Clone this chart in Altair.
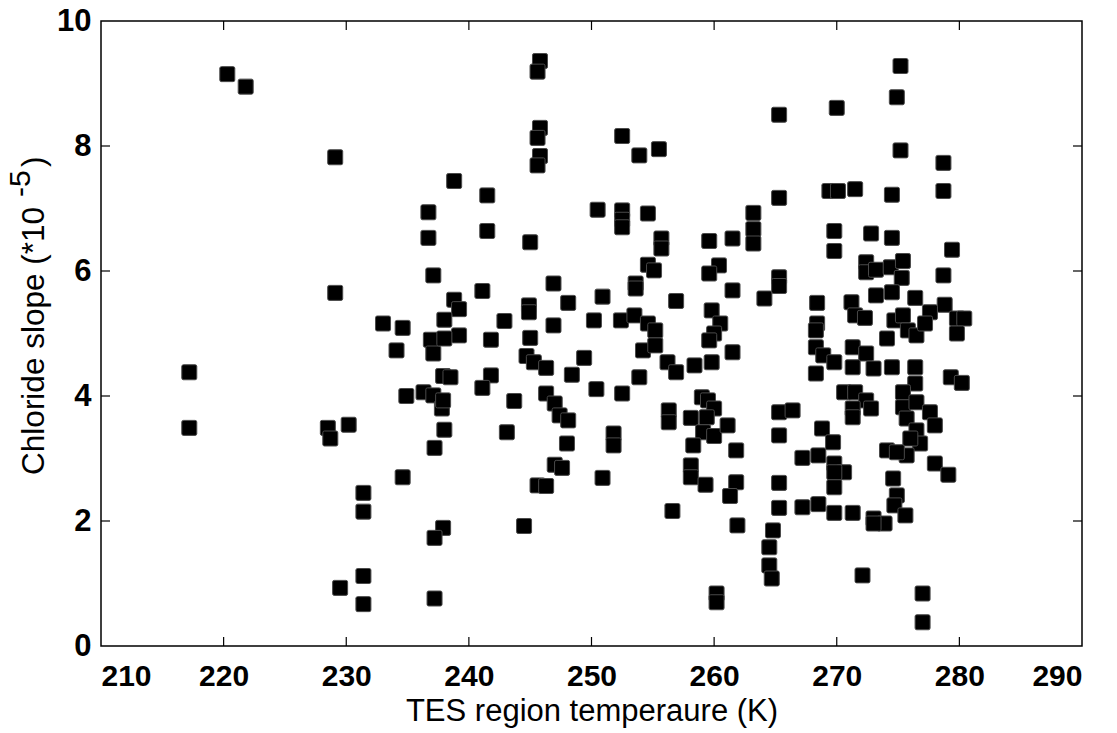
import altair as alt
import pandas as pd

# TES region temperature (K)
temps = [
    220.3, 221.8, 229.1, 236.7, 236.7, 237.1, 229.1, 233.0, 234.6,
    245.8, 245.6, 245.8, 245.6, 245.8, 245.6, 252.5, 253.9, 255.5,
    238.8, 241.5, 241.5, 245.0, 250.5, 252.5, 252.5, 252.5, 254.6,
    255.7, 255.7, 254.6, 255.1, 246.9, 241.1, 253.6, 253.6, 256.9,
    259.6, 261.5, 263.2, 263.2, 263.2, 260.4, 259.6, 261.5, 264.1,
    238.8, 239.2, 238.0, 244.9, 244.9, 248.1, 250.9, 242.9, 246.9,
    250.2, 252.4, 253.5, 254.6, 255.2, 259.8, 260.5, 260.0, 259.6,
    275.2, 274.9, 270.0, 265.3, 275.2, 278.7, 269.4, 270.1, 271.5,
    274.5, 278.7, 265.3, 269.8, 272.8, 274.5, 269.8, 279.4, 272.4,
    272.4, 273.2, 274.4, 275.4, 275.3, 278.7, 265.3, 265.3, 273.2,
    274.5, 276.4, 278.8, 268.4, 268.4, 271.2, 271.5, 272.3, 277.6,
    274.7, 275.4, 275.8, 276.5, 277.2, 279.8, 280.4, 279.8, 274.1,
    217.2, 217.2, 228.5, 228.7, 230.2, 234.1, 236.9, 237.1, 234.9,
    236.3, 237.1, 237.8, 238.0, 237.2, 234.6, 231.4, 231.4, 237.9,
    237.2, 231.4, 229.5, 231.4, 237.2,
    239.2, 238.0, 241.8, 245.0, 244.7, 245.3, 246.3, 249.4, 237.9,
    238.5, 241.8, 241.1, 248.4, 253.9, 254.2, 255.2, 256.2, 256.9,
    258.4, 259.8, 261.5, 237.9, 243.7, 246.3, 247.0, 247.4, 248.1,
    250.4, 252.5, 256.3, 256.3, 251.8, 251.8, 243.1, 248.0, 247.0,
    247.6, 245.6, 246.3, 250.9, 244.5, 256.6, 259.0, 259.5, 260.0,
    258.1, 259.4, 259.1, 260.0, 261.1, 258.3, 261.8, 258.1, 258.1,
    259.3, 261.8, 261.3, 261.9, 260.2, 260.2,
    268.3, 268.3, 268.9, 269.8, 268.3, 271.3, 272.4, 271.3, 273.0,
    274.5, 276.4, 279.3, 280.2, 276.4, 270.6, 271.5, 272.4, 272.8,
    271.3, 271.3, 275.4, 275.4, 276.5, 277.6, 278.0, 275.7, 276.5,
    276.8, 276.0, 275.7, 274.1, 274.9, 278.0, 279.1, 265.3, 266.4,
    265.3, 268.8, 269.7, 267.2, 268.5, 269.8, 270.6, 269.8, 269.8,
    274.6, 265.3, 274.9, 274.7, 275.6, 265.3, 267.2, 268.5, 269.8,
    271.3, 273.0, 273.9, 273.0, 264.8, 264.5, 264.5, 264.7, 272.1,
    277.0, 277.0,
]

# Chloride slope (*10^-5)
slopes = [
    9.15, 8.95, 7.82, 6.94, 6.53, 5.93, 5.65, 5.16, 5.09,
    9.36, 9.19, 8.29, 8.13, 7.84, 7.69, 8.16, 7.85, 7.95,
    7.44, 7.21, 6.64, 6.46, 6.98, 6.97, 6.82, 6.70, 6.92,
    6.52, 6.36, 6.10, 6.01, 5.80, 5.68, 5.80, 5.72, 5.52,
    6.48, 6.52, 6.93, 6.67, 6.44, 6.09, 5.96, 5.69, 5.56,
    5.54, 5.39, 5.22, 5.45, 5.34, 5.49, 5.59, 5.20, 5.13,
    5.21, 5.21, 5.29, 5.16, 5.05, 5.37, 5.16, 5.00, 4.89,
    9.28, 8.78, 8.61, 8.50, 7.93, 7.73, 7.28, 7.28, 7.31,
    7.22, 7.28, 7.17, 6.64, 6.60, 6.53, 6.32, 6.34, 6.14,
    5.98, 6.02, 6.06, 6.16, 5.89, 5.93, 5.90, 5.76, 5.61,
    5.66, 5.57, 5.46, 5.49, 5.16, 5.50, 5.29, 5.25, 5.34,
    5.21, 5.29, 5.05, 4.97, 5.16, 5.24, 5.24, 5.00, 4.92,
    4.38, 3.49, 3.49, 3.32, 3.54, 4.73, 4.90, 4.68, 4.00,
    4.06, 4.01, 3.80, 3.46, 3.17, 2.70, 2.45, 2.15, 1.89,
    1.73, 1.12, 0.93, 0.67, 0.76,
    4.97, 4.92, 4.90, 4.93, 4.64, 4.54, 4.45, 4.61, 4.32,
    4.30, 4.33, 4.13, 4.34, 4.30, 4.73, 4.81, 4.54, 4.38,
    4.49, 4.54, 4.70, 3.93, 3.92, 4.04, 3.88, 3.69, 3.61,
    4.11, 4.04, 3.77, 3.58, 3.40, 3.21, 3.42, 3.24, 2.90,
    2.85, 2.57, 2.56, 2.69, 1.92, 2.16, 3.98, 3.93, 3.80,
    3.65, 3.66, 3.42, 3.36, 3.53, 3.21, 3.13, 2.89, 2.70,
    2.58, 2.62, 2.40, 1.93, 0.84, 0.70,
    5.05, 4.78, 4.65, 4.54, 4.36, 4.78, 4.68, 4.46, 4.44,
    4.46, 4.46, 4.30, 4.21, 4.20, 4.06, 4.06, 3.93, 3.80,
    3.80, 3.66, 4.06, 3.82, 3.90, 3.74, 3.53, 3.64, 3.45,
    3.24, 3.32, 3.05, 3.13, 3.10, 2.92, 2.74, 3.74, 3.77,
    3.37, 3.48, 3.26, 3.01, 3.05, 2.92, 2.78, 2.78, 2.54,
    2.68, 2.61, 2.41, 2.25, 2.09, 2.21, 2.22, 2.27, 2.13,
    2.13, 2.04, 1.96, 1.96, 1.85, 1.58, 1.29, 1.08, 1.13,
    0.84, 0.38,
]

x_ticks = [210, 220, 230, 240, 250, 260, 270, 280, 290]
y_ticks = [0, 2, 4, 6, 8, 10]

x_title = "TES region temperaure (K)"
y_title_main = "Chloride slope (*10"
y_title_sup = "-5"
y_title_end = ")"

W, H = 981, 625
TICK = 9
FONT = "Liberation Sans"

df = pd.DataFrame({"T": temps, "S": slopes})
xt = pd.DataFrame({"T": x_ticks[1:-1]})
yt = pd.DataFrame({"S": y_ticks[1:-1]})

xs = alt.Scale(domain=[210, 290], nice=False, zero=False)
ys = alt.Scale(domain=[0, 10], nice=False, zero=False)

x_axis = alt.Axis(values=x_ticks, title=x_title, ticks=False,
                  domain=False, grid=False, labelPadding=15, titlePadding=5,
                  labelFontSize=30, format="d")
y_axis = alt.Axis(values=y_ticks, title="", ticks=False,
                  domain=False, grid=False, labelPadding=10,
                  format="d")

X = alt.X("T:Q", scale=xs, axis=x_axis)
Y = alt.Y("S:Q", scale=ys, axis=y_axis)

rounded_square = ("M-0.78,-1 L0.78,-1 Q1,-1 1,-0.78 L1,0.78 Q1,1 0.78,1 "
                  "L-0.78,1 Q-1,1 -1,0.78 L-1,-0.78 Q-1,-1 -0.78,-1 Z")

points = alt.Chart(df).mark_point(
    shape=rounded_square, filled=True, size=225,
    fill="#000000", stroke="#4a4a4a", strokeWidth=1, opacity=1, fillOpacity=1,
).encode(x=X, y=Y)

bottom_ticks = alt.Chart(xt).mark_rule(color="black", strokeWidth=1.2).encode(
    x=X, y=alt.value(H - TICK), y2=alt.value(H))
top_ticks = alt.Chart(xt).mark_rule(color="black", strokeWidth=1.2).encode(
    x=X, y=alt.value(0), y2=alt.value(TICK))
left_ticks = alt.Chart(yt).mark_rule(color="black", strokeWidth=1.2).encode(
    y=Y, x=alt.value(0), x2=alt.value(TICK))
right_ticks = alt.Chart(yt).mark_rule(color="black", strokeWidth=1.2).encode(
    y=Y, x=alt.value(W - TICK), x2=alt.value(W))

# y-axis title drawn as rotated text pieces so that "-5" can be raised
title_src = alt.Chart(pd.DataFrame({"a": [0]}))
ytitle_main = title_src.mark_text(
    text=y_title_main, angle=270, align="right", baseline="alphabetic",
    font=FONT, fontSize=31.5, color="black",
).encode(x=alt.value(-57), y=alt.value(186))
ytitle_sup = title_src.mark_text(
    text=y_title_sup, angle=270, align="left", baseline="alphabetic",
    font=FONT, fontSize=30, color="black",
).encode(x=alt.value(-71), y=alt.value(176))
ytitle_end = title_src.mark_text(
    text=y_title_end, angle=270, align="left", baseline="alphabetic",
    font=FONT, fontSize=31.5, color="black",
).encode(x=alt.value(-57), y=alt.value(146))

chart = alt.layer(points, bottom_ticks, top_ticks, left_ticks, right_ticks,
                  ytitle_main, ytitle_sup, ytitle_end).properties(
    width=W, height=H,
    autosize=alt.AutoSizeParams(type="none"),
    padding={"left": 101, "top": 21, "right": 35, "bottom": 87},
    background="white",
).configure_view(
    stroke="black", strokeWidth=1.5
).configure_axis(
    labelFont=FONT, labelFontSize=31, labelFontWeight="bold", labelColor="black",
    titleFont=FONT, titleFontSize=31, titleFontWeight="normal", titleColor="black",
)

chart.save("out.html", embed_options={"renderer": "svg", "actions": False})
